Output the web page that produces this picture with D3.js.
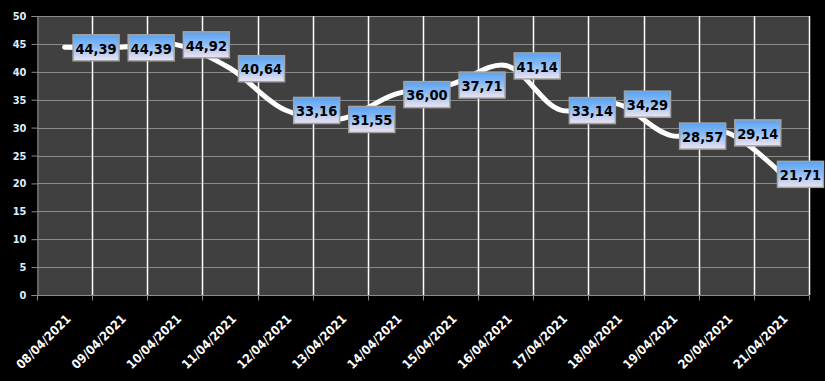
<!DOCTYPE html>
<html><head><meta charset="utf-8">
<script src="https://cdn.jsdelivr.net/npm/d3@7"></script>
<style>html,body{margin:0;padding:0;background:#000;}svg{display:block;}</style>
</head><body>
<script>
const categories = ["08/04/2021","09/04/2021","10/04/2021","11/04/2021","12/04/2021","13/04/2021","14/04/2021","15/04/2021","16/04/2021","17/04/2021","18/04/2021","19/04/2021","20/04/2021","21/04/2021"];
const values = [44.39,44.39,44.92,40.64,33.16,31.55,36.00,37.71,41.14,33.14,34.29,28.57,29.14,21.71];
const yTicks = [0,5,10,15,20,25,30,35,40,45,50];

const W = 825, H = 381;
const m = {left:37, right:16, top:16, bottom:86};
const svg = d3.select("body").append("svg").attr("width",W).attr("height",H);
svg.append("rect").attr("width",W).attr("height",H).attr("fill","#000");

const x = d3.scaleBand().domain(categories).range([m.left, W-m.right]).padding(0);
const y = d3.scaleLinear().domain([0,50]).range([H-m.bottom, m.top]);
const x0 = m.left, x1 = W-m.right, y0 = H-m.bottom, y1 = m.top;

const defs = svg.append("defs");
const g = defs.append("linearGradient").attr("id","lbl").attr("x1",0).attr("y1",0).attr("x2",0).attr("y2",1);
g.append("stop").attr("offset","0%").attr("stop-color","#58a2f5");
g.append("stop").attr("offset","45%").attr("stop-color","#8cbcf4");
g.append("stop").attr("offset","100%").attr("stop-color","#f0e4f0");

svg.append("rect").attr("x",x0).attr("y",y1).attr("width",x1-x0).attr("height",y0-y1).attr("fill","#404040");

// horizontal grid
svg.append("g").selectAll("line").data(yTicks).join("line")
  .attr("x1",x0).attr("x2",x1).attr("y1",d=>Math.round(y(d))+0.5).attr("y2",d=>Math.round(y(d))+0.5)
  .attr("stroke","#8a8a8a").attr("stroke-width",1);
// vertical grid at band boundaries
const bounds = categories.map(c=>x(c)).concat([x1]);
svg.append("g").selectAll("line").data(bounds.slice(1)).join("line")
  .attr("x1",d=>Math.round(d)+0.5).attr("x2",d=>Math.round(d)+0.5).attr("y1",y1).attr("y2",y0)
  .attr("stroke","#ffffff").attr("stroke-width",1.5);

// y axis
const ya = svg.append("g").attr("transform",`translate(${x0+0.5},0)`)
  .call(d3.axisLeft(y).tickValues(yTicks).tickSize(6).tickPadding(5).tickFormat(d3.format("d")));
ya.select(".domain").attr("stroke","#8a8a8a");
ya.selectAll(".tick line").attr("stroke","#8a8a8a");
ya.selectAll("text").attr("fill","#dceeff").attr("font-family","'DejaVu Sans Condensed','DejaVu Sans',sans-serif")
  .attr("font-weight","bold").attr("font-size","11px");

// x axis
const xa = svg.append("g").attr("transform",`translate(0,${Math.round(y0)+0.5})`);
xa.append("line").attr("x1",x0).attr("x2",x1).attr("stroke","#8a8a8a");
xa.selectAll("line.t").data(bounds).join("line").attr("class","t")
  .attr("x1",d=>Math.round(d)+0.5).attr("x2",d=>Math.round(d)+0.5).attr("y1",0).attr("y2",5).attr("stroke","#8a8a8a");
xa.selectAll("text").data(categories).join("text")
  .attr("transform",d=>`translate(${x(d)+x.bandwidth()/2+4},21) rotate(-45)`)
  .attr("text-anchor","end").attr("dy","0.35em")
  .attr("fill","#ffffff").attr("font-family","'DejaVu Sans Condensed','DejaVu Sans',sans-serif")
  .attr("font-weight","bold").attr("font-size","12.5px").text(d=>d);

// line
const pts = categories.map((c,i)=>[x(c)+x.bandwidth()/2, y(values[i])]);
svg.append("path").attr("d", d3.line().curve(d3.curveCatmullRom.alpha(0.5))(pts))
  .attr("fill","none").attr("stroke","#ffffff").attr("stroke-width",5).attr("stroke-linecap","round").attr("stroke-linejoin","round");

// labels
const bw = 46, bh = 26;
const lg = svg.append("g").selectAll("g").data(pts).join("g")
  .attr("transform",(p)=>{ let lx = Math.min(p[0]+8, W-2-bw); return `translate(${lx},${p[1]-bh/2})`; });
lg.append("rect").attr("x",0.5).attr("y",0.5).attr("width",bw).attr("height",bh)
  .attr("fill","url(#lbl)").attr("stroke","#a3a3a3").attr("stroke-width",1.5);
lg.append("text").attr("x",bw/2+0.5).attr("y",bh/2+1).attr("dy","0.36em").attr("text-anchor","middle")
  .attr("font-family","'DejaVu Sans Condensed','DejaVu Sans',sans-serif").attr("font-weight","bold").attr("font-size","14.5px")
  .attr("fill","#000").text((p,i)=>d3.format(".2f")(values[i]).replace(".",","));
</script>
</body></html>
